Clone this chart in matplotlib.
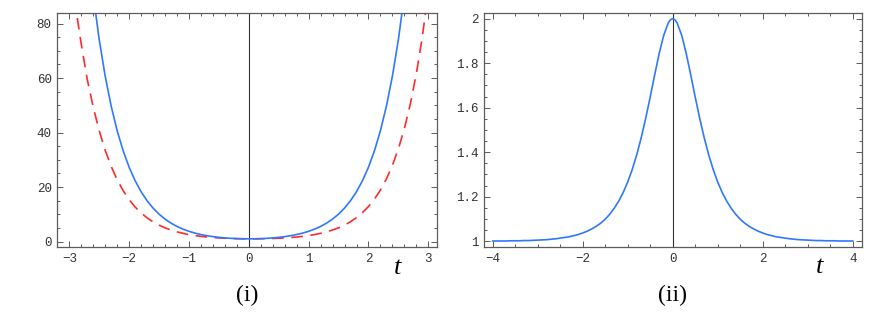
import matplotlib
matplotlib.use("Agg")
import matplotlib.pyplot as plt
from matplotlib.ticker import MultipleLocator

# panel (i): values, t step 0.1
t_left = [-3.0, -2.9, -2.8, -2.7, -2.6, -2.5, -2.4, -2.3, -2.2, -2.1, -2.0, -1.9, -1.8, -1.7, -1.6,
          -1.5, -1.4, -1.3, -1.2, -1.1, -1.0, -0.9, -0.8, -0.7, -0.6, -0.5, -0.4, -0.3, -0.2, -0.1,
          0.0, 0.1, 0.2, 0.3, 0.4, 0.5, 0.6, 0.7, 0.8, 0.9, 1.0, 1.1, 1.2, 1.3, 1.4, 1.5, 1.6, 1.7,
          1.8, 1.9, 2.0, 2.1, 2.2, 2.3, 2.4, 2.5, 2.6, 2.7, 2.8, 2.9, 3.0]
blue_left = [201.7, 165.2, 135.2, 110.7, 90.63, 74.21, 60.76, 49.75, 40.73, 33.35, 27.31, 22.36,
             18.31, 15.00, 12.29, 10.07, 8.253, 6.769, 5.557, 4.568, 3.762, 3.108, 2.578, 2.151,
             1.811, 1.543, 1.337, 1.186, 1.081, 1.020, 1.000, 1.020, 1.081, 1.186, 1.337, 1.543,
             1.811, 2.151, 2.578, 3.108, 3.762, 4.568, 5.557, 6.769, 8.253, 10.07, 12.29, 15.00,
             18.31, 22.36, 27.31, 33.35, 40.73, 49.75, 60.76, 74.21, 90.63, 110.7, 135.2, 165.2, 201.7]
red_left = [104.5, 87.0, 72.5, 59.6, 49.4, 40.7, 33.5, 27.6, 22.7, 18.7, 15.4, 12.7,
            10.5, 8.72, 7.24, 6.03, 5.04, 4.23, 3.56, 3.02, 2.57, 2.21, 1.91, 1.68, 1.49, 1.33,
            1.22, 1.13, 1.06, 1.02, 1.00, 1.00, 1.02, 1.06, 1.13, 1.22, 1.33, 1.49, 1.68, 1.91,
            2.21, 2.57, 3.02, 3.57, 4.24, 5.06, 6.06, 7.29, 8.79, 10.62, 12.86, 15.59, 18.93,
            23.01, 27.99, 34.07, 41.51, 50.58, 61.67, 75.22, 91.76]

# panel (ii)
t_right = [-4.0, -3.9, -3.8, -3.7, -3.6, -3.5, -3.4, -3.3, -3.2, -3.1, -3.0, -2.9, -2.8, -2.7,
           -2.6, -2.5, -2.4, -2.3, -2.2, -2.1, -2.0, -1.9, -1.8, -1.7, -1.6, -1.5, -1.4, -1.3,
           -1.2, -1.1, -1.0, -0.9, -0.8, -0.7, -0.6, -0.5, -0.4, -0.3, -0.2, -0.1, -0.05, 0.0,
           0.05, 0.1, 0.2, 0.3, 0.4, 0.5, 0.6, 0.7, 0.8, 0.9, 1.0, 1.1, 1.2, 1.3, 1.4, 1.5, 1.6,
           1.7, 1.8, 1.9, 2.0, 2.1, 2.2, 2.3, 2.4, 2.5, 2.6, 2.7, 2.8, 2.9, 3.0, 3.1, 3.2, 3.3,
           3.4, 3.5, 3.6, 3.7, 3.8, 3.9, 4.0]
y_right = [1.001, 1.001, 1.001, 1.001, 1.002, 1.002, 1.002, 1.003, 1.003, 1.004, 1.005, 1.006,
           1.007, 1.009, 1.011, 1.014, 1.017, 1.020, 1.025, 1.030, 1.037, 1.045, 1.055, 1.067,
           1.081, 1.099, 1.121, 1.148, 1.180, 1.219, 1.266, 1.322, 1.388, 1.465, 1.552, 1.648,
           1.748, 1.844, 1.925, 1.980, 1.995, 2.000, 1.995, 1.980, 1.925, 1.844, 1.748, 1.648,
           1.552, 1.465, 1.388, 1.322, 1.266, 1.219, 1.180, 1.148, 1.121, 1.099, 1.081, 1.067,
           1.055, 1.045, 1.037, 1.030, 1.025, 1.020, 1.017, 1.014, 1.011, 1.009, 1.007, 1.006,
           1.005, 1.004, 1.003, 1.003, 1.002, 1.002, 1.002, 1.001, 1.001, 1.001, 1.001]

blue = "#2f78ff"
red = "#ff2a2a"
frame = "#5c5c5c"
mono = "Liberation Mono"

fig = plt.figure(figsize=(8.72, 3.26), dpi=100)
ax1 = fig.add_axes([0.0657, 0.2423, 0.4358, 0.7187])
ax2 = fig.add_axes([0.5547, 0.2423, 0.4335, 0.7169])


def style(ax):
    for sp in ax.spines.values():
        sp.set_color(frame)
        sp.set_linewidth(0.9)
    ax.tick_params(which="both", direction="in", top=True, right=True,
                   color=frame, width=0.7, labelsize=9, labelcolor="#333333", pad=4)
    ax.tick_params(which="major", length=4)
    ax.tick_params(which="minor", length=2)
    for lab in ax.get_xticklabels() + ax.get_yticklabels():
        lab.set_fontfamily(mono)


# (i)
ax1.axvline(0, color="#333333", lw=0.8)
ax1.plot(t_left, red_left, color=red, lw=1.2, dashes=(7, 4.5))
ax1.plot(t_left, blue_left, color=blue, lw=1.2)
ax1.set_xlim(-3.2, 3.15)
ax1.set_ylim(-2.0, 84.0)
ax1.set_xticks([-3, -2, -1, 0, 1, 2, 3])
ax1.set_xticklabels(["\u22123", "\u22122", "\u22121", "0", "1", "2", "3"])
ax1.xaxis.set_minor_locator(MultipleLocator(0.2))
ax1.yaxis.set_major_locator(MultipleLocator(20))
ax1.yaxis.set_minor_locator(MultipleLocator(5))
style(ax1)

# (ii)
ax2.axvline(0, color="#333333", lw=0.8)
ax2.plot(t_right, y_right, color=blue, lw=1.2)
ax2.set_xlim(-4.2, 4.2)
ax2.set_ylim(0.974, 2.024)
ax2.set_xticks([-4, -2, 0, 2, 4])
ax2.set_xticklabels(["\u22124", "\u22122", "0", "2", "4"])
ax2.xaxis.set_minor_locator(MultipleLocator(0.5))
ax2.set_yticks([1.0, 1.2, 1.4, 1.6, 1.8, 2.0])
ax2.set_yticklabels(["1", "1.2", "1.4", "1.6", "1.8", "2"])
ax2.yaxis.set_minor_locator(MultipleLocator(0.05))
style(ax2)

fig.text(0.456, 0.178, "t", fontfamily="Liberation Serif", style="italic",
         fontsize=19, ha="center", va="center")
fig.text(0.940, 0.181, "t", fontfamily="Liberation Serif", style="italic",
         fontsize=19, ha="center", va="center")
fig.text(0.283, 0.095, "(i)", fontfamily="Liberation Serif", fontsize=17,
         ha="center", va="center")
fig.text(0.771, 0.095, "(ii)", fontfamily="Liberation Serif", fontsize=17,
         ha="center", va="center")

fig.savefig("out.png", dpi=100)
